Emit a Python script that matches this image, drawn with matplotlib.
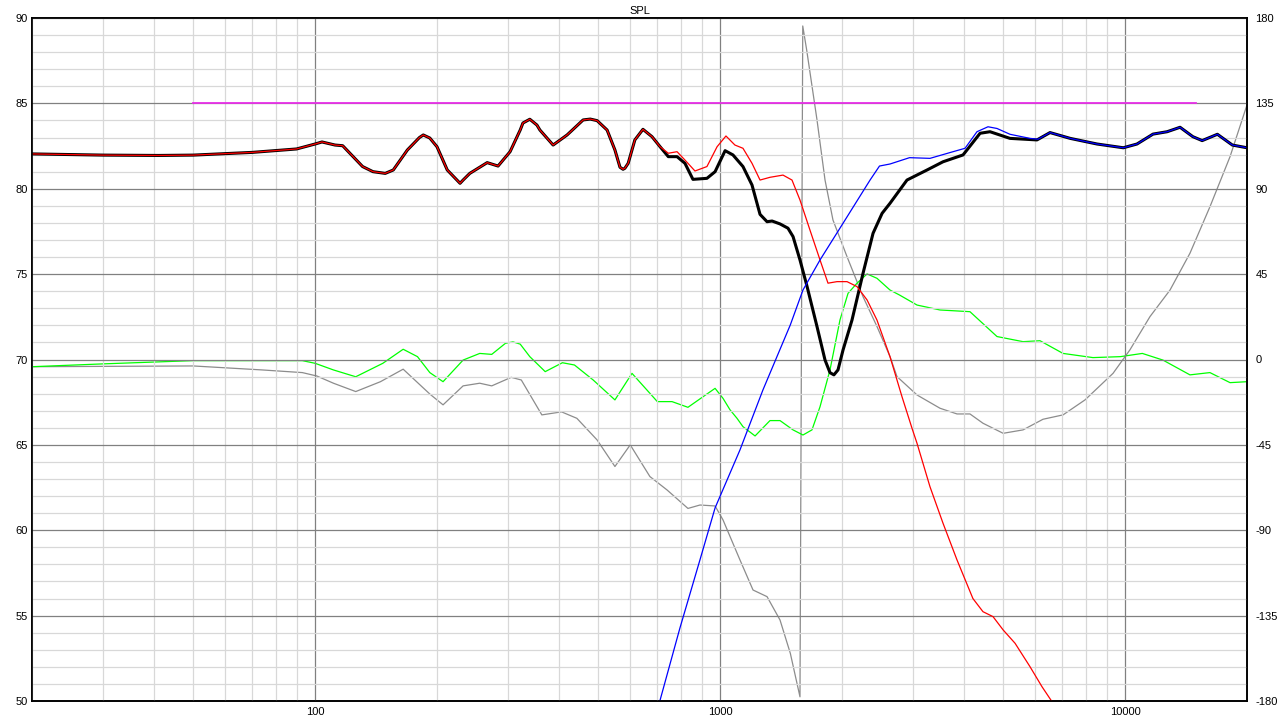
import matplotlib
matplotlib.use("Agg")
import matplotlib.pyplot as plt
from matplotlib.ticker import FixedLocator, MultipleLocator, NullFormatter, FixedFormatter

plt.rcParams['font.family'] = ['Liberation Sans', 'DejaVu Sans']
plt.rcParams['axes.unicode_minus'] = False

# total response (black)
sum_freq = [20, 30, 41, 50, 70, 90, 100, 104, 112, 117, 131, 139, 149, 156, 169, 181, 185, 192,
            200, 212, 224, 228, 232, 241, 266, 283, 303, 321, 326, 339, 353, 359, 387, 419, 459,
            478, 497, 526, 550, 566, 576, 582, 593, 616, 645, 679, 711, 745, 783, 819, 857, 928,
            972, 1029, 1076, 1139, 1199, 1255, 1306, 1344, 1406, 1471, 1514, 1575, 1640, 1735,
            1816, 1868, 1910, 1955, 2012, 2117, 2254, 2386, 2512, 2628, 2894, 3244, 3552, 3980,
            4385, 4640, 5198, 6060, 6526, 7320, 8526, 9900, 10700, 11720, 12700, 13670, 14700,
            15500, 16900, 18400, 20000]
sum_db = [82.04, 81.97, 81.95, 81.97, 82.13, 82.33, 82.62, 82.74, 82.56, 82.52, 81.3, 81.0,
          80.9, 81.1, 82.27, 83.0, 83.15, 82.97, 82.46, 81.1, 80.51, 80.32, 80.51, 80.9, 81.53,
          81.33, 82.17, 83.44, 83.85, 84.07, 83.73, 83.44, 82.56, 83.15, 84.03, 84.08, 83.99,
          83.44, 82.27, 81.26, 81.14, 81.2, 81.49, 82.86, 83.48, 83.05, 82.46, 81.88, 81.88,
          81.49, 80.55, 80.61, 81.0, 82.23, 81.98, 81.3, 80.22, 78.5, 78.07, 78.11, 77.94,
          77.69, 77.2, 75.83, 74.27, 71.93, 69.97, 69.23, 69.1, 69.39, 70.56, 72.31, 75.05,
          77.39, 78.56, 79.15, 80.51, 81.1, 81.58, 81.98, 83.25, 83.34, 82.95, 82.86, 83.29,
          82.95, 82.62, 82.4, 82.62, 83.2, 83.34, 83.6, 83.05, 82.82, 83.19, 82.56, 82.4]

# woofer (red)
woof_freq = [20, 30, 41, 50, 70, 90, 100, 104, 112, 117, 131, 139, 149, 156, 169, 181, 185, 192,
             200, 212, 224, 228, 232, 241, 266, 283, 303, 321, 326, 339, 353, 359, 387, 419, 459,
             478, 497, 526, 550, 566, 576, 582, 593, 616, 645, 679, 711, 745, 783, 819, 867, 928,
             983, 1034, 1088, 1139, 1199, 1255, 1328, 1430, 1505, 1575, 1667, 1765, 1847, 1944,
             2058, 2178, 2306, 2440, 2628, 2813, 2978, 3064, 3298, 3552, 3846, 4210, 4458, 4720,
             5000, 5350, 5824, 6234, 6600, 6800]
woof_db = [82.04, 81.97, 81.95, 81.97, 82.13, 82.33, 82.62, 82.74, 82.56, 82.52, 81.3, 81.0,
           80.9, 81.1, 82.27, 83.0, 83.15, 82.97, 82.46, 81.1, 80.51, 80.32, 80.51, 80.9, 81.53,
           81.33, 82.17, 83.44, 83.85, 84.07, 83.73, 83.44, 82.56, 83.15, 84.03, 84.08, 83.99,
           83.44, 82.27, 81.26, 81.14, 81.2, 81.49, 82.86, 83.48, 83.05, 82.46, 82.08, 82.17,
           81.68, 81.04, 81.3, 82.46, 83.09, 82.56, 82.37, 81.49, 80.51, 80.67, 80.8, 80.51,
           79.34, 77.58, 75.83, 74.47, 74.56, 74.56, 74.27, 73.49, 72.31, 70.16, 67.82, 65.97,
           65.09, 62.55, 60.41, 58.26, 56.0, 55.23, 54.94, 54.16, 53.38, 52.01, 50.84, 49.96,
           49.5]

# tweeter (blue)
tw_freq = [690, 710, 796, 892, 972, 1120, 1276, 1491, 1602, 1765, 2012, 2346, 2475, 2628, 2936,
           3298, 3760, 4026, 4308, 4587, 4828, 5198, 5824, 6094, 6526, 7320, 8526, 9900, 10700,
           11720, 12700, 13670, 14700, 15500, 16900, 18400, 20000]
tw_db = [49.2, 50.0, 54.28, 58.27, 61.31, 64.71, 68.22, 72.03, 74.07, 75.83, 77.98, 80.51,
         81.33, 81.45, 81.82, 81.78, 82.17, 82.37, 83.34, 83.63, 83.53, 83.19, 82.95, 82.9,
         83.29, 82.95, 82.62, 82.4, 82.62, 83.2, 83.34, 83.6, 83.05, 82.82, 83.19, 82.56, 82.4]

# phase (green)
ph1_freq = [20, 30, 50, 93, 100, 111, 126, 147, 165, 179, 192, 207, 232, 255, 273, 295, 308,
            321, 339, 370, 408, 437, 486, 550, 606, 700, 761, 833, 908, 972, 1017, 1058, 1101,
            1139, 1220, 1328, 1406, 1514, 1602, 1686, 1765, 1868, 1977, 2070, 2178, 2306, 2440,
            2628, 2773, 3064, 3492, 4140, 4828, 5598, 6164, 7027, 8330, 9730, 11030, 12400,
            14460, 16200, 18160, 20000]
ph1_deg = [-3.8, -2.3, -0.6, -0.6, -2.0, -5.5, -9.1, -2.0, 5.4, 1.5, -6.9, -11.7, -0.3, 3.2,
           2.7, 8.5, 9.3, 8.1, 1.5, -6.4, -1.7, -2.9, -10.8, -21.3, -7.3, -22.2, -22.2, -25.2,
           -19.6, -15.2, -20.5, -26.5, -31.0, -35.4, -40.3, -32.2, -32.2, -37.1, -39.8, -37.1,
           -24.9, -5.5, 20.8, 34.9, 40.2, 45.1, 42.8, 36.6, 34.0, 28.7, 26.1, 25.2, 12.1, 9.4,
           9.9, 3.2, 1.0, 1.5, 3.2, -0.3, -8.1, -6.9, -12.2, -11.7]

# phase (gray, wrapped)
ph2_freq = [20, 50, 74, 93, 101, 111, 126, 145, 165, 192, 207, 232, 255, 273, 305, 323, 363,
            406, 443, 497, 550, 600, 671, 740, 833, 892, 972, 1017, 1120, 1206, 1306, 1406,
            1491, 1575, 1600, 1636, 1735, 1816, 1900, 2058, 2254, 2440, 2628, 2734, 3064, 3492,
            3846, 4140, 4458, 5000, 5598, 6270, 7027, 7962, 9338, 10280, 11520, 12910, 14460,
            16200, 18160, 20000]
ph2_deg = [-3.8, -3.4, -5.5, -6.9, -8.7, -12.5, -16.9, -11.7, -5.1, -18.2, -23.9, -13.9,
           -12.5, -13.9, -9.4, -10.8, -29.2, -27.6, -31.0, -42.4, -56.4, -45.0, -61.7, -68.8,
           -78.5, -76.7, -77.2, -84.6, -105.7, -121.5, -125.0, -137.3, -154.9, -177.8, 175.8,
           163.2, 126.3, 94.6, 73.5, 54.2, 33.1, 17.4, 1.5, -9.0, -18.7, -25.7, -28.7, -28.7,
           -33.6, -38.9, -37.1, -31.5, -29.2, -21.3, -7.3, 5.1, 22.6, 36.6, 56.0, 80.5, 106.9,
           134.2]

target_freq = [50, 15000]
target_db = [85, 85]

fig = plt.figure(figsize=(12.8, 7.2), dpi=100)
ax = fig.add_axes([32 / 1280, 19 / 720, 1215 / 1280, 683 / 720])
ax2 = ax.twinx()
ax.set_zorder(2)
ax2.set_zorder(1)
ax.patch.set_visible(False)

ax.set_xscale("log")
ax.set_xlim(20, 20000)
ax.set_ylim(50, 90)
ax2.set_ylim(-180, 180)

# grid
ax.xaxis.set_major_locator(FixedLocator([100, 1000, 10000]))
ax.xaxis.set_major_formatter(FixedFormatter(["100", "1000", "10000"]))
minors = [m * d for d in (10, 100, 1000, 10000) for m in range(2, 10) if 20 <= m * d <= 20000]
ax.xaxis.set_minor_locator(FixedLocator(minors))
ax.xaxis.set_minor_formatter(NullFormatter())
ax.yaxis.set_major_locator(MultipleLocator(5))
ax.yaxis.set_minor_locator(MultipleLocator(1))
ax2.yaxis.set_major_locator(MultipleLocator(45))
ax2.yaxis.set_minor_locator(MultipleLocator(9))
ax2.yaxis.set_minor_formatter(NullFormatter())
ax.grid(True, which="minor", color="#d8d8d8", lw=0.9)
ax.grid(True, which="major", color="#808080", lw=0.9)

# phase curves
ax2.plot(ph2_freq, ph2_deg, color="#8c8c8c", lw=0.9)
ax2.plot(ph1_freq, ph1_deg, color="#00ff00", lw=0.9)

# spl curves
ax.plot(target_freq, target_db, color="#e830e8", lw=1.3)
ax.plot(sum_freq, sum_db, color="black", lw=2.2)
ax.plot(woof_freq, woof_db, color="#ff0000", lw=0.9)
ax.plot(tw_freq, tw_db, color="#0000ff", lw=0.9)

for a in (ax, ax2):
    a.tick_params(which="both", length=0, labelsize=8, colors="black")
    for s in a.spines.values():
        s.set_color("black")
        s.set_linewidth(1.2)
ax.tick_params(axis="x", pad=4)
ax.tick_params(axis="y", pad=3)
ax2.tick_params(axis="y", pad=6)

ax.set_title("SPL", fontsize=8, pad=3)

fig.savefig("out.png", dpi=100)
